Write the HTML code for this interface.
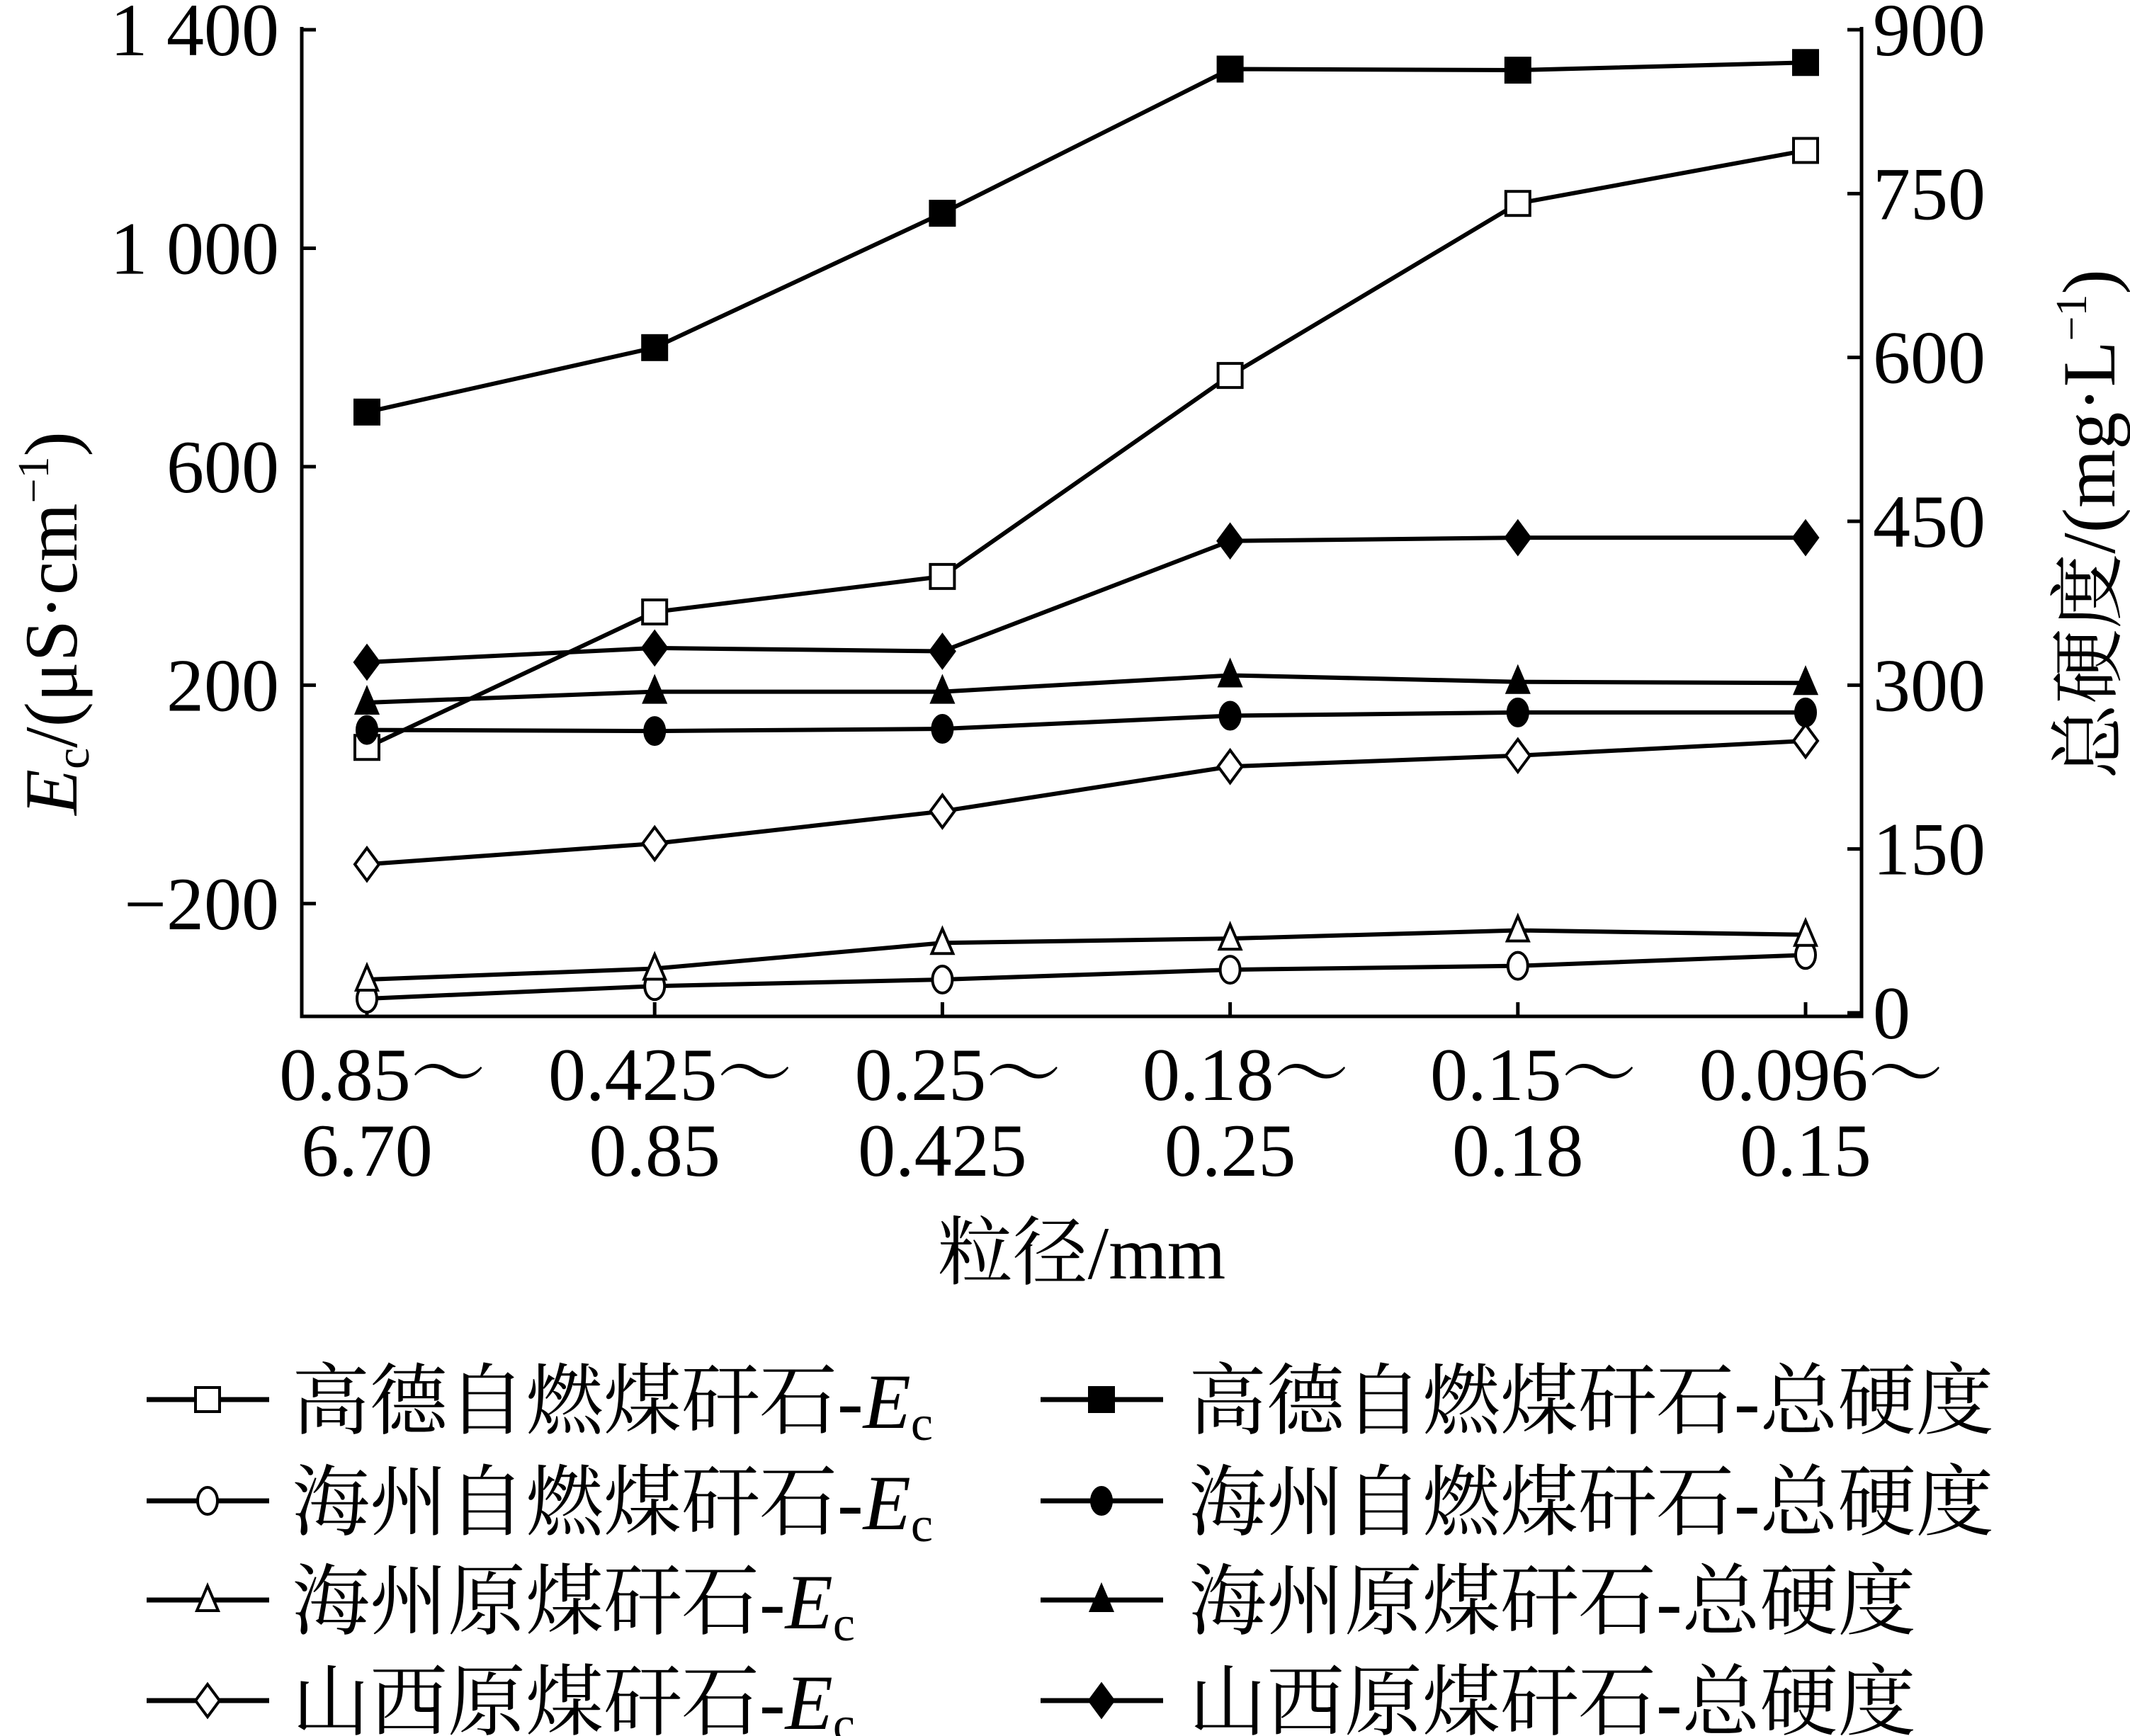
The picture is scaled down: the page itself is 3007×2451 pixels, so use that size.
<!DOCTYPE html>
<html><head><meta charset="utf-8"><style>
html,body{margin:0;padding:0;background:#fff}
svg{display:block}
text{font-family:"Liberation Serif","Noto Serif CJK SC","Noto Sans CJK SC",serif;fill:#000}
</style></head><body>
<svg id="chart" width="3007" height="2451" viewBox="0 0 3007 2451" xmlns="http://www.w3.org/2000/svg">
<g id="axes"></g>
<g id="series"></g>
<g id="legend"></g>
</svg>
<script>
const categoriesTop = ["0.85～","0.425～","0.25～","0.18～","0.15～","0.096～"];
const categoriesBottom = ["6.70","0.85","0.425","0.25","0.18","0.15"];
const leftTicks = [-200,200,600,1000,1400];
const leftTickLabels = ["−200","200","600","1 000","1 400"];
const rightTicks = [0,150,300,450,600,750,900];
const gaodeEc = [86,334,399,767,1082,1179];
const haizhouSelfEc = [-374,-351,-339,-321,-314,-294];
const haizhouRawEc = [-339,-319,-272,-264,-249,-257];
const shanxiEc = [-128,-90,-31,51,71,98];
const gaodeHard = [550,609,732,864,863,870];
const haizhouSelfHard = [259,258,260,272,275,275];
const haizhouRawHard = [284,294,294,309,303,302];
const shanxiHard = [321,334,331,432,435,435];
const legendLabels = ["高德自燃煤矸石-","海州自燃煤矸石-","海州原煤矸石-","山西原煤矸石-"];

const NS="http://www.w3.org/2000/svg";
const L=426,R=2628,T=42,B=1430,AX=1435;
const FS=106;
const xPos=i=>518+i*406.2;
const yL=v=>T+(1400-v)/1800*(B-T);
const yR=v=>T+(900-v)/900*(B-T);
function mk(tag,attrs,parent){const e=document.createElementNS(NS,tag);for(const k in attrs)e.setAttribute(k,attrs[k]);parent.appendChild(e);return e;}
const axes=document.getElementById('axes'),series=document.getElementById('series'),legend=document.getElementById('legend');

let e=mk('path',{d:`M${L},38 V${AX} H${R} V38`,fill:'none',stroke:'#000','stroke-width':5},axes);

leftTicks.forEach((v,i)=>{
  let t=mk('line',{x1:L,x2:L+20,y1:yL(v),y2:yL(v),stroke:'#000','stroke-width':5},axes);
  
  let tx=mk('text',{x:L-32,y:yL(v)+36,'text-anchor':'end','font-size':FS},axes);tx.textContent=leftTickLabels[i];
  
});
rightTicks.forEach(v=>{
  let t=mk('line',{x1:R-20,x2:R,y1:yR(v),y2:yR(v),stroke:'#000','stroke-width':5},axes);
  
  let tx=mk('text',{x:R+16,y:yR(v)+36,'text-anchor':'start','font-size':FS},axes);tx.textContent=String(v);
  
});
categoriesTop.forEach((c,i)=>{
  let t=mk('line',{x1:xPos(i),x2:xPos(i),y1:AX,y2:AX-20,stroke:'#000','stroke-width':5},axes);
  
  let a=mk('text',{x:xPos(i)+22,y:1553,'text-anchor':'middle','font-size':FS},axes);a.textContent=c;
  
  let b=mk('text',{x:xPos(i),y:1660,'text-anchor':'middle','font-size':FS},axes);b.textContent=categoriesBottom[i];
  
});
let xt=mk('text',{x:1527,y:1805,'text-anchor':'middle','font-size':FS},axes);xt.textContent='粒径/mm';

let ylt=mk('text',{x:0,y:0,'text-anchor':'middle','font-size':FS,transform:'translate(108,880) rotate(-90)'},axes);
ylt.innerHTML='<tspan font-style="italic">E</tspan><tspan font-size="68" dy="17">c</tspan><tspan dy="-17">/(μS·cm</tspan><tspan font-size="62" dy="-40">−1</tspan><tspan dy="40">)</tspan>';

let yrt=mk('text',{x:0,y:0,'text-anchor':'middle','font-size':FS,transform:'translate(2985,740) rotate(-90)'},axes);
yrt.innerHTML='总硬度/(mg·L<tspan font-size="62" dy="-40">−1</tspan><tspan dy="40">)</tspan>';


function marker(shape,filled,x,y,parent){
  const s=17,fill=filled?'#000':'#fff',st={stroke:'#000','stroke-width':4,fill:fill};
  let m;
  if(shape==='square')m=mk('rect',Object.assign({x:x-s,y:y-s,width:2*s,height:2*s},st),parent);
  else if(shape==='circle')m=mk('ellipse',Object.assign({cx:x,cy:y,rx:s-3,ry:s+2},st),parent);
  else if(shape==='triangle')m=mk('path',Object.assign({d:`M${x},${y-s-3} L${x+s-2},${y+s-2} L${x-s+2},${y+s-2}Z`},st),parent);
  else m=mk('path',Object.assign({d:`M${x},${y-s-6} L${x+s},${y} L${x},${y+s+6} L${x-s},${y}Z`},st),parent);
  return m;
}
const defs=[
 [gaodeEc,yL,'square',false,'gaode-ec'],[haizhouSelfEc,yL,'circle',false,'haizhou-self-ec'],
 [haizhouRawEc,yL,'triangle',false,'haizhou-raw-ec'],[shanxiEc,yL,'diamond',false,'shanxi-ec'],
 [gaodeHard,yR,'square',true,'gaode-hardness'],[haizhouSelfHard,yR,'circle',true,'haizhou-self-hardness'],
 [haizhouRawHard,yR,'triangle',true,'haizhou-raw-hardness'],[shanxiHard,yR,'diamond',true,'shanxi-hardness']];
defs.forEach(([data,sc,shape,filled,name])=>{
  const g=mk('g',{},series);
  
  const ln=mk('polyline',{points:data.map((v,i)=>xPos(i)+','+sc(v)).join(' '),fill:'none',stroke:'#000','stroke-width':6},g);
  
  data.forEach((v,i)=>{const m=marker(shape,filled,xPos(i),sc(v),g);
    });
});
const rows=[1976,2119,2259,2401],shapes=['square','circle','triangle','diamond'];
rows.forEach((y,i)=>{
  [[207,380,293,412,false],[1469,1642,1555,1678,true]].forEach(([x1,x2,mx,tx,filled])=>{
    const g=mk('g',{},legend);
    
    mk('line',{x1:x1,x2:x2,y1:y,y2:y,stroke:'#000','stroke-width':7},g);
    marker(shapes[i],filled,mx,y,g);
    const t=mk('text',{x:tx,y:y+40,'font-size':110},g);
    if(filled)t.textContent=legendLabels[i]+'总硬度';
    else t.innerHTML=legendLabels[i]+'<tspan font-style="italic">E</tspan><tspan font-size="70" dy="17">c</tspan>';
  });
});
</script>
</body></html>
